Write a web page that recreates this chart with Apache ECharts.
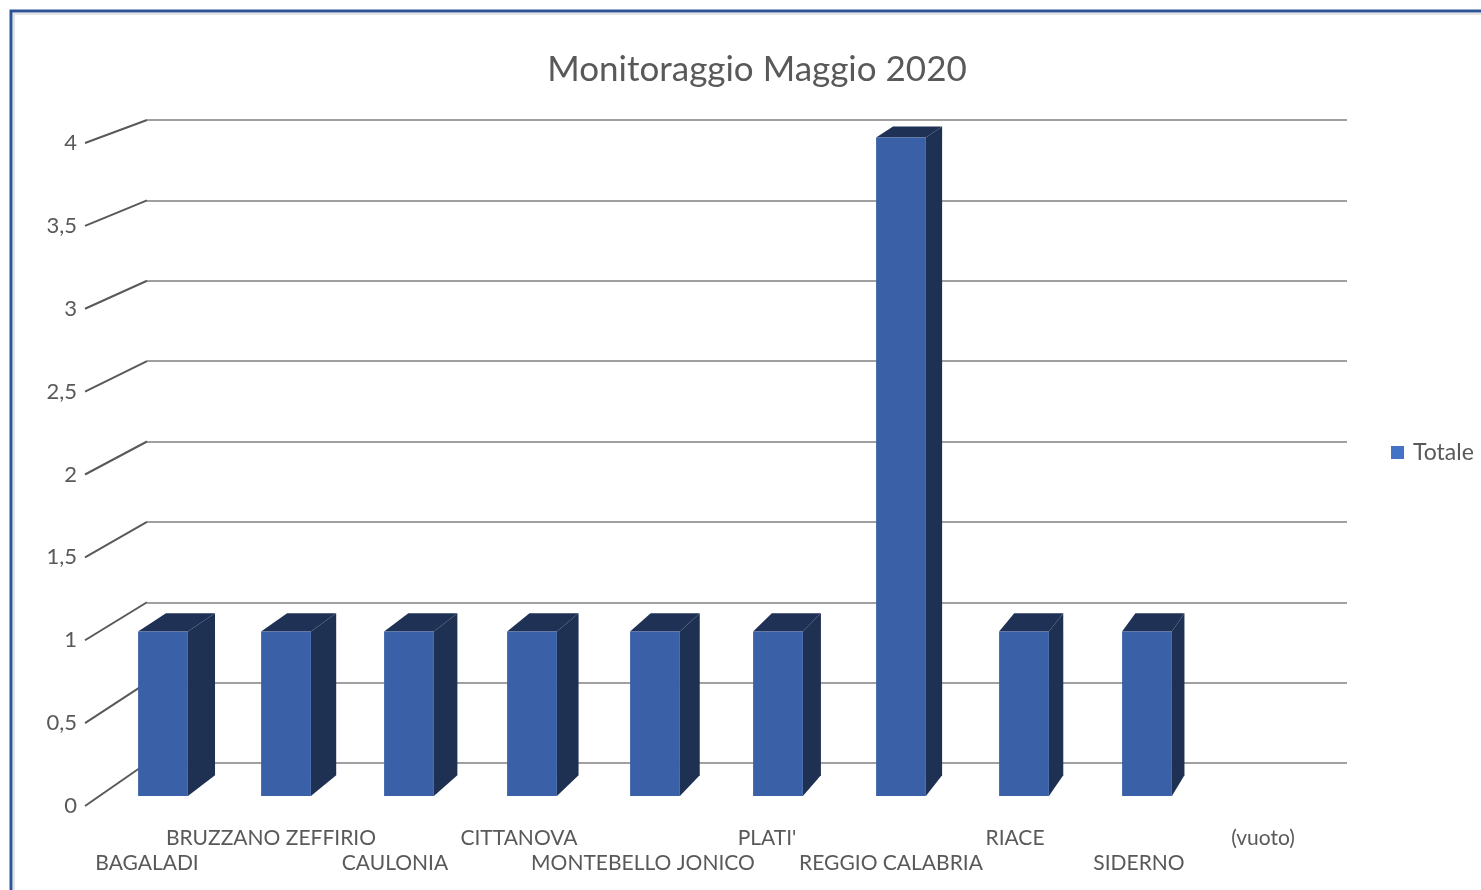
<!DOCTYPE html>
<html>
<head>
<meta charset="utf-8">
<title>Monitoraggio Maggio 2020</title>
<script src="https://cdn.jsdelivr.net/npm/echarts@6/dist/echarts.min.js"></script>
<style>
  html, body { margin: 0; padding: 0; background: #fff; }
  #chart { width: 1481px; height: 890px; }
</style>
</head>
<body>
<div id="chart"></div>
<script>
// data
var comuni = ['BAGALADI', 'BRUZZANO ZEFFIRIO', 'CAULONIA', 'CITTANOVA', 'MONTEBELLO JONICO',
  "PLATI'", 'REGGIO CALABRIA', 'RIACE', 'SIDERNO', '(vuoto)'];
var totale = [1, 1, 1, 1, 1, 1, 4, 1, 1, null];
var yTicks = [0, 0.5, 1, 1.5, 2, 2.5, 3, 3.5, 4];

var FONT = 'Lato';
var TEXT = '#595959';

// fake 3d: depth edges run toward a vanishing point up and to the right
var VP = [2020, -600];
var DEPTH = 0.0148;
function toBack(p) {
  return [p[0] + DEPTH * (VP[0] - p[0]), p[1] + DEPTH * (VP[1] - p[1])];
}

var myChart = echarts.init(document.getElementById('chart'));

function renderBar(params, api) {
  var v = api.value(1);
  if (v == null || isNaN(v)) return;
  var top = api.coord([api.value(0), v]);
  var base = api.coord([api.value(0), 0]);
  var w = api.size([1, 0])[0] * 0.405;
  var x0 = top[0] - w / 2, x1 = top[0] + w / 2;
  var yt = top[1], yb = base[1];
  var bl = toBack([x0, yt]), br = toBack([x1, yt]), bb = toBack([x1, yb]);
  return {
    type: 'group',
    children: [
      { type: 'polygon', shape: { points: [[x1, yt], br, bb, [x1, yb]] },
        style: { fill: '#1f3153' } },
      { type: 'polygon', shape: { points: [[x0, yt], bl, br, [x1, yt]] },
        style: { fill: '#1f3155' } },
      { type: 'rect', shape: { x: x0, y: yt, width: w, height: yb - yt },
        style: { fill: '#3a61a8' } }
    ]
  };
}

function renderSlant(params, api) {
  var v = api.value(0);
  var front = api.coord([0, v]);
  var back = myChart.convertToPixel({ gridIndex: 1 }, [0, v]);
  return {
    type: 'line',
    shape: { x1: params.coordSys.x, y1: front[1], x2: back[0], y2: back[1] },
    style: { stroke: '#595959', lineWidth: 2 }
  };
}

var option = {
  backgroundColor: '#fff',
  animation: false,
  title: {
    text: 'Monitoraggio Maggio 2020',
    left: 752,
    top: 47,
    textAlign: 'center',
    textStyle: { fontFamily: FONT, fontSize: 35, fontWeight: 'normal', color: TEXT }
  },
  legend: {
    data: [{ name: 'Totale', icon: 'rect' }],
    left: 1391,
    top: 441,
    padding: 0,
    itemWidth: 13,
    itemHeight: 13,
    textStyle: { fontFamily: FONT, fontSize: 23, color: TEXT, padding: [0, 0, 0, 4] }
  },
  graphic: [
    { type: 'rect', shape: { x: 11, y: 11, width: 1500, height: 900 },
      style: { fill: 'none', stroke: '#2f5496', lineWidth: 3 }, silent: true },
    { type: 'rect', shape: { x: 14, y: 14, width: 1500, height: 900 },
      style: { fill: 'none', stroke: '#dcdcdc', lineWidth: 1.5 }, silent: true }
  ],
  grid: [
    // front plane of the bars
    { left: 101.5, right: 149.5, top: 137.5, bottom: 94 },
    // back wall
    { left: 147, right: 134, top: 120, bottom: 127 },
    // front edge of the floor / wall, carries the labels
    { left: 85, right: 156, top: 143, bottom: 84 }
  ],
  xAxis: [
    { gridIndex: 0, type: 'category', data: comuni, show: false },
    { gridIndex: 1, type: 'value', min: 0, max: 1, show: false },
    {
      gridIndex: 2, type: 'category', data: comuni,
      axisLine: { show: false }, axisTick: { show: false },
      axisLabel: {
        interval: 0, margin: 19.5, fontFamily: FONT, fontSize: 21, color: TEXT, lineHeight: 25,
        formatter: function (val, i) { return i % 2 === 0 ? '\n' + val : val; }
      }
    }
  ],
  yAxis: [
    { gridIndex: 0, type: 'value', min: 0, max: 4, interval: 0.5, show: false },
    {
      gridIndex: 1, type: 'value', min: 0, max: 4, interval: 0.5,
      axisLine: { show: false }, axisTick: { show: false }, axisLabel: { show: false },
      splitLine: { show: true, lineStyle: { color: '#a0a0a0', width: 2 } }
    },
    {
      gridIndex: 2, type: 'value', min: 0, max: 4, interval: 0.5,
      axisLine: { show: false }, axisTick: { show: false }, splitLine: { show: false },
      axisLabel: {
        margin: 8, fontFamily: FONT, fontSize: 22, color: TEXT,
        formatter: function (v) { return String(v).replace('.', ','); }
      }
    }
  ],
  series: [
    {
      type: 'custom',
      name: 'slant',
      xAxisIndex: 2, yAxisIndex: 2,
      data: yTicks.map(function (t) { return [t]; }),
      encode: { y: 0 },
      renderItem: renderSlant,
      silent: true,
      z: 1
    },
    {
      type: 'custom',
      name: 'Totale',
      xAxisIndex: 0, yAxisIndex: 0,
      itemStyle: { color: '#4472c4' },
      data: totale.map(function (v, i) { return [i, v]; }),
      encode: { x: 0, y: 1 },
      renderItem: renderBar,
      z: 3
    }
  ]
};

myChart.setOption(option);
</script>
</body>
</html>
